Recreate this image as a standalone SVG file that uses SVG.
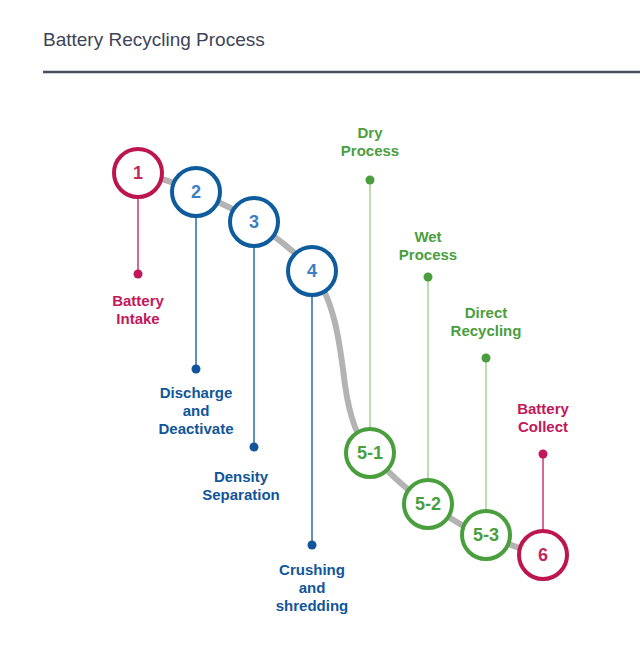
<svg xmlns="http://www.w3.org/2000/svg" width="640" height="666" viewBox="0 0 640 666">
<style>
.title{font-family:"Liberation Sans",Arial,sans-serif;font-size:19px;fill:#3d4458}
.lbl{font-family:"Liberation Sans",Arial,sans-serif;font-size:15px;font-weight:bold;text-anchor:middle}
.num{font-family:"Liberation Sans",Arial,sans-serif;font-size:18px;font-weight:bold;text-anchor:middle}
.ring{fill:#fff;stroke-width:4}
.pink .ring{stroke:#bd1550}
.pink .num{fill:#bf2a62}
.pink .lbl{fill:#c2185b}
.pink .dot{fill:#c2185b}
.pink .stem{stroke:#c9376f}
.blue .ring{stroke:#0e5b9e}
.blue .num{fill:#3d7fc1}
.blue .lbl{fill:#11569a}
.blue .dot{fill:#11569a}
.blue .stem{stroke:#2a6aaa}
.green .ring{stroke:#4b9e3e}
.green .num{fill:#4b9e3e}
.green .lbl{fill:#4b9e3e}
.green .dot{fill:#4b9e3e}
.green .stem{stroke:#a3d397}
.stem{stroke-width:1.5;fill:none}
</style>
<text class="title" x="43" y="46">Battery Recycling Process</text>
<line x1="43" y1="72" x2="640" y2="72" stroke="#474e63" stroke-width="2.5"/>
<g id="connectors">
<path d="M138,173 C160,178 180,184 196,192 C215,201 237,209 254,222 C275,237 298,253 312,271 C335,300 340,345 345,385 C350,420 358,440 370,453 C388,472 408,492 428,504 C448,516 466,530 486,535 C505,542 525,552 543,555" fill="none" stroke="#b3b3b3" stroke-width="6"/>
</g>
<g id="node1" class="pink">
<line class="stem" x1="138" y1="173" x2="138" y2="274"/>
<circle class="dot" cx="138" cy="274" r="4.5"/>
<circle class="ring" cx="138" cy="173" r="24"/>
<text class="num" x="138" y="179">1</text>
<text class="lbl" x="138" y="306">Battery</text>
<text class="lbl" x="138" y="324">Intake</text>
</g>
<g id="node2" class="blue">
<line class="stem" x1="196" y1="192" x2="196" y2="369"/>
<circle class="dot" cx="196" cy="369" r="4.5"/>
<circle class="ring" cx="196" cy="192" r="24"/>
<text class="num" x="196" y="198">2</text>
<text class="lbl" x="196" y="398">Discharge</text>
<text class="lbl" x="196" y="416">and</text>
<text class="lbl" x="196" y="434">Deactivate</text>
</g>
<g id="node3" class="blue">
<line class="stem" x1="254" y1="222" x2="254" y2="447"/>
<circle class="dot" cx="254" cy="447" r="4.5"/>
<circle class="ring" cx="254" cy="222" r="24"/>
<text class="num" x="254" y="228">3</text>
<text class="lbl" x="241" y="482">Density</text>
<text class="lbl" x="241" y="500">Separation</text>
</g>
<g id="node4" class="blue">
<line class="stem" x1="312" y1="271" x2="312" y2="545"/>
<circle class="dot" cx="312" cy="545" r="4.5"/>
<circle class="ring" cx="312" cy="271" r="24"/>
<text class="num" x="312" y="277">4</text>
<text class="lbl" x="312" y="575">Crushing</text>
<text class="lbl" x="312" y="593">and</text>
<text class="lbl" x="312" y="611">shredding</text>
</g>
<g id="node5-1" class="green">
<line class="stem" x1="370" y1="180" x2="370" y2="453"/>
<circle class="dot" cx="370" cy="180" r="4.5"/>
<circle class="ring" cx="370" cy="453" r="24"/>
<text class="num" x="370" y="459">5-1</text>
<text class="lbl" x="370" y="138">Dry</text>
<text class="lbl" x="370" y="156">Process</text>
</g>
<g id="node5-2" class="green">
<line class="stem" x1="428" y1="277" x2="428" y2="504"/>
<circle class="dot" cx="428" cy="277" r="4.5"/>
<circle class="ring" cx="428" cy="504" r="24"/>
<text class="num" x="428" y="510">5-2</text>
<text class="lbl" x="428" y="242">Wet</text>
<text class="lbl" x="428" y="260">Process</text>
</g>
<g id="node5-3" class="green">
<line class="stem" x1="486" y1="358" x2="486" y2="535"/>
<circle class="dot" cx="486" cy="358" r="4.5"/>
<circle class="ring" cx="486" cy="535" r="24"/>
<text class="num" x="486" y="541">5-3</text>
<text class="lbl" x="486" y="318">Direct</text>
<text class="lbl" x="486" y="336">Recycling</text>
</g>
<g id="node6" class="pink">
<line class="stem" x1="543" y1="454" x2="543" y2="555"/>
<circle class="dot" cx="543" cy="454" r="4.5"/>
<circle class="ring" cx="543" cy="555" r="24"/>
<text class="num" x="543" y="561">6</text>
<text class="lbl" x="543" y="414">Battery</text>
<text class="lbl" x="543" y="432">Collect</text>
</g>
</svg>
